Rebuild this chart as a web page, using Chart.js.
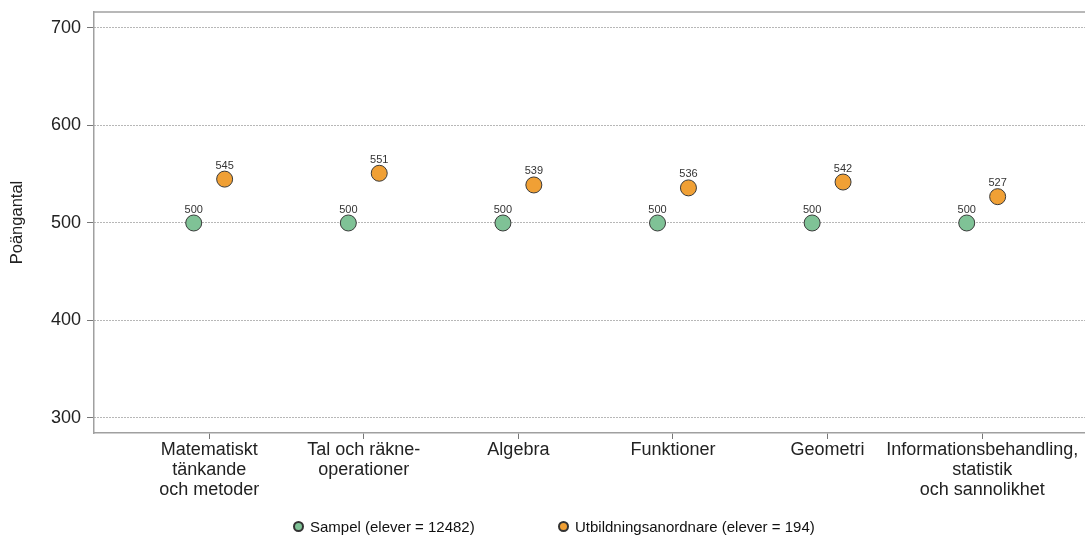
<!DOCTYPE html>
<html>
<head>
<meta charset="utf-8">
<script src="https://cdn.jsdelivr.net/npm/chart.js@4.4.1/dist/chart.umd.min.js"></script>
<style>
    html, body { margin: 0; padding: 0; background: #fff; overflow: hidden; }
    #wrap { position: relative; width: 1085px; height: 536px; overflow: hidden; }
    #legend {
        position: absolute; top: 518px; left: 0; width: 1085px;
        font-family: 'Liberation Sans', Arial, sans-serif; font-size: 15px; color: #111;
    }
    .item { position: absolute; top: 0; white-space: nowrap; }
    .dot {
        display: inline-block; width: 7px; height: 7px; border-radius: 50%;
        border: 2px solid #333; vertical-align: 0px; margin-right: 6px;
    }
</style>
</head>
<body>
<div id="wrap">
    <canvas id="chart" width="1094" height="536"></canvas>
    <div id="legend">
        <span class="item" style="left:293px"><span class="dot" style="background:#7fc296"></span>Sampel (elever = 12482)</span>
        <span class="item" style="left:558px"><span class="dot" style="background:#f0a035"></span>Utbildningsanordnare (elever = 194)</span>
    </div>
</div>
<script>
// Chart data
const categories = [
    ['Matematiskt', 'tänkande', 'och metoder'],
    ['Tal och räkne-', 'operationer'],
    ['Algebra'],
    ['Funktioner'],
    ['Geometri'],
    ['Informationsbehandling,', 'statistik', 'och sannolikhet']
];
const sampel = [500, 500, 500, 500, 500, 500];
const utbildning = [545, 551, 539, 536, 542, 527];
const yTicks = [300, 400, 500, 600, 700];

const COLORS = {
    sampel: '#7fc296',
    utbildning: '#f0a035',
    border: '#3a3a3a',
    axis: '#a0a0a0',
    grid: '#6e6e6e',
    text: '#222222'
};
const FONT = "'Liberation Sans', Arial, sans-serif";

// Draw value labels above each point and the top frame line
const extras = {
    id: 'extras',
    afterDatasetsDraw(chart) {
        const ctx = chart.ctx;
        ctx.save();
        ctx.font = '11px ' + FONT;
        ctx.fillStyle = '#333';
        ctx.textAlign = 'center';
        ctx.textBaseline = 'bottom';
        chart.data.datasets.forEach((ds, di) => {
            chart.getDatasetMeta(di).data.forEach((pt, i) => {
                ctx.fillText(String(ds.data[i].y), pt.x, pt.y - 8);
            });
        });
        const a = chart.chartArea;
        ctx.strokeStyle = COLORS.axis;
        ctx.lineWidth = 1.5;
        ctx.beginPath();
        ctx.moveTo(a.left, a.top);
        ctx.lineTo(a.right, a.top);
        ctx.stroke();
        ctx.restore();
    }
};

const chart = new Chart(document.getElementById('chart'), {
    type: 'scatter',
    data: {
        datasets: [
            {
                label: 'Sampel (elever = 12482)',
                data: sampel.map((v, i) => ({ x: i + 1 - 0.1, y: v })),
                backgroundColor: COLORS.sampel,
                borderColor: COLORS.border,
                borderWidth: 1,
                pointRadius: 8,
                pointHoverRadius: 8
            },
            {
                label: 'Utbildningsanordnare (elever = 194)',
                data: utbildning.map((v, i) => ({ x: i + 1 + 0.1, y: v })),
                backgroundColor: COLORS.utbildning,
                borderColor: COLORS.border,
                borderWidth: 1,
                pointRadius: 8,
                pointHoverRadius: 8
            }
        ]
    },
    options: {
        responsive: false,
        animation: false,
        layout: { padding: { top: 12, right: 0, bottom: 0, left: 0 } },
        plugins: {
            legend: { display: false },
            tooltip: { enabled: false }
        },
        scales: {
            x: {
                type: 'linear',
                min: 0.255,
                max: 6.665,
                afterBuildTicks: scale => {
                    scale.ticks = categories.map((c, i) => ({ value: i + 1 }));
                },
                afterFit: scale => { scale.height = 103; },
                border: { color: COLORS.axis, width: 1.5 },
                grid: {
                    drawOnChartArea: false,
                    drawTicks: true,
                    tickLength: 6,
                    tickColor: '#777'
                },
                ticks: {
                    autoSkip: false,
                    maxRotation: 0,
                    padding: 1,
                    color: COLORS.text,
                    font: { size: 18, family: FONT, lineHeight: 1.12 },
                    callback: (value) => categories[Math.round(value) - 1]
                }
            },
            y: {
                min: 284.6,
                max: 716.4,
                afterBuildTicks: scale => {
                    scale.ticks = yTicks.map(v => ({ value: v }));
                },
                afterFit: scale => {
                    scale.width = 94;
                    scale.paddingTop = 0;
                    scale.paddingBottom = 0;
                },
                border: { color: COLORS.axis, width: 1.5, dash: [1, 2] },
                grid: {
                    color: COLORS.grid,
                    lineWidth: 1,
                    tickBorderDash: [],
                    tickColor: '#777',
                    tickLength: 7
                },
                ticks: {
                    padding: 6,
                    color: COLORS.text,
                    font: { size: 18, family: FONT }
                },
                title: {
                    display: true,
                    text: 'Poängantal',
                    color: COLORS.text,
                    font: { size: 16.5, family: FONT },
                    padding: { top: 8, bottom: 0 }
                }
            }
        }
    },
    plugins: [extras]
});
</script>
</body>
</html>
